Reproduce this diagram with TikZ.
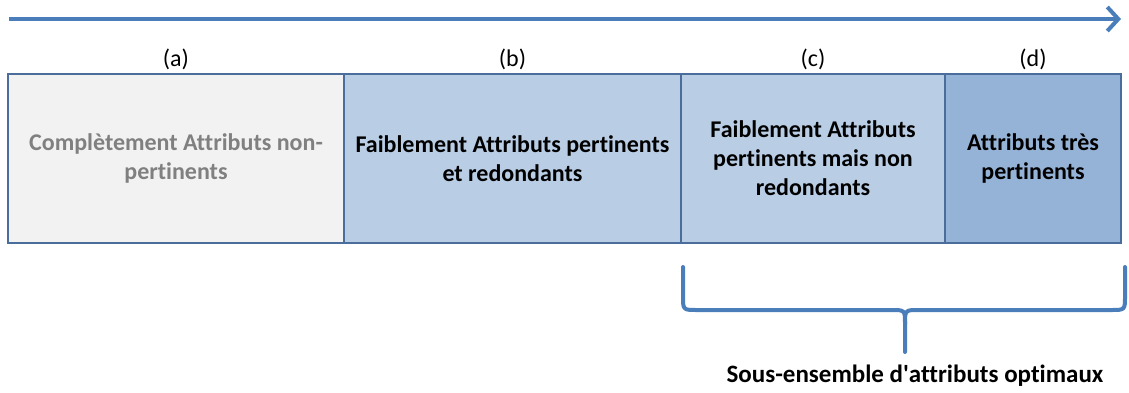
\documentclass[tikz,border=0pt]{standalone}
\usepackage{fontspec}
\setmainfont{Carlito}[Ligatures={TeX,NoCommon}]
\usetikzlibrary{positioning,arrows.meta}

\definecolor{frame}{HTML}{4A6D9C}
\definecolor{axis}{HTML}{4A7EBB}
\definecolor{fillA}{HTML}{F2F2F2}
\definecolor{fillB}{HTML}{B9CDE5}
\definecolor{fillD}{HTML}{95B3D7}
\definecolor{greytext}{HTML}{808080}

\tikzset{
  zone/.style={draw=frame, line width=2pt, outer sep=0pt, inner sep=0pt,
    minimum height=169pt, align=center,
    font=\fontsize{24}{29}\selectfont\bfseries},
  tag/.style={font=\fontsize{24}{28}\selectfont},
  bracket/.style={axis, line width=4pt, line cap=round, line join=round},
}

\begin{document}
\begin{tikzpicture}[x=1pt,y=-1pt]
  \useasboundingbox (0,0) rectangle (1129,392);

  % axis on top
  \coordinate (s) at (9,19);
  \coordinate (e) at (1121,19);
  \draw[axis, line width=4pt, -{Straight Barb[length=11pt,width=24pt]}] (s) -- (e);

  % the four zones
  \node[zone, fill=fillA, text=greytext, minimum width=336pt, anchor=north west] (a) at (8,74)
    {Complètement Attributs non-\\pertinents};
  \node[zone, fill=fillB, minimum width=337pt, right=0pt of a] (b)
    {Faiblement Attributs pertinents\\et redondants};
  \node[zone, fill=fillB, minimum width=264pt, right=0pt of b] (c)
    {Faiblement Attributs\\pertinents mais non\\redondants};
  \node[zone, fill=fillD, minimum width=176pt, right=0pt of c] (d)
    {Attributs très\\pertinents};

  \node[tag, above=1pt of a] (la) {(a)};
  \node[tag, above=1pt of b] (lb) {(b)};
  \node[tag, above=1pt of c] (lc) {(c)};
  \node[tag, above=1pt of d] (ld) {(d)};

  % brace under (c) and (d)
  \coordinate (bl) at (683,267);
  \coordinate (br) at (1125,267);
  \coordinate (tip) at (905,352);
  \draw[bracket] (bl) -- (683,296) .. controls (683,310) .. (697,310)
    -- (891,310) .. controls (905,310) .. (905,324) -- (tip);
  \draw[bracket] (br) -- (1125,296) .. controls (1125,310) .. (1111,310)
    -- (919,310) .. controls (905,310) .. (905,324);
  \node[font=\fontsize{25}{28}\selectfont\bfseries, below=9pt of tip, xshift=10pt] (opt)
    {Sous-ensemble d\textquotesingle attributs optimaux};
\end{tikzpicture}
\end{document}
